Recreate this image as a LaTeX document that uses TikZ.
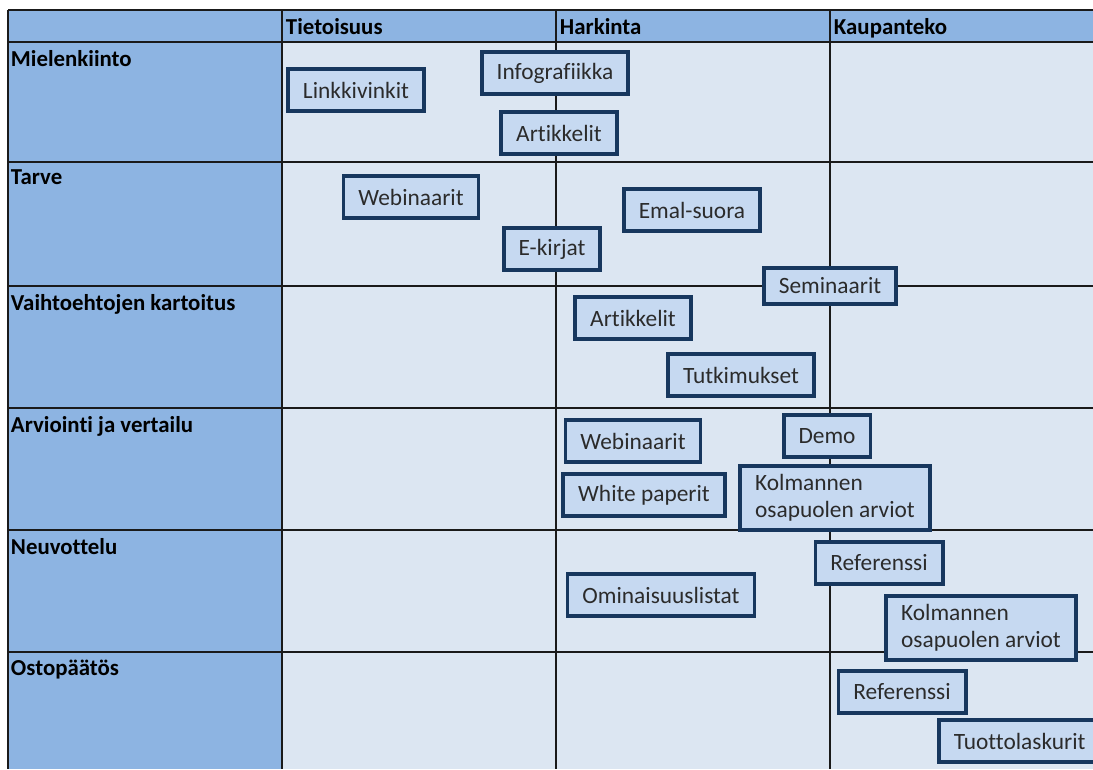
\documentclass[tikz,border=0pt]{standalone}
\usepackage{fontspec}
\setmainfont{Carlito}[Ligatures=NoCommon]
\usepackage{xcolor}
\usepackage{tikz}

\definecolor{headblue}{HTML}{8DB4E2}
\definecolor{cellblue}{HTML}{DCE6F2}
\definecolor{boxblue}{HTML}{C6D9F1}
\definecolor{boxline}{HTML}{17375E}
\definecolor{gridline}{HTML}{1A1A1A}
\definecolor{boxtext}{HTML}{2B2B2B}

\begin{document}
\begin{tikzpicture}[
    x=0.02cm, y=-0.02cm,
    channel/.style={rectangle, draw=boxline, line width=2.2pt, fill=boxblue, text=boxtext, inner xsep=8.5pt, inner ysep=4pt, minimum height=23.5pt, font=\fontsize{13.3}{15.5}\selectfont, align=left},
    heading/.style={anchor=north west, inner sep=1.5pt, font=\fontsize{13}{15}\selectfont\bfseries},
    gridline/.style={draw=gridline, line width=1.1pt},
]
\useasboundingbox (0,0) rectangle (1093,769);

% Background
\fill[cellblue] (282,42) rectangle (1093,769);
\fill[headblue] (8,10) rectangle (1093,42);
\fill[headblue] (8,42) rectangle (282,769);

% Grid
\foreach \y in {10,42,162,286,408,530,652} \draw[gridline] (8,\y) -- (1093,\y);
\foreach \x in {8,282,556,830} \draw[gridline] (\x,10) -- (\x,769);

% Phases
\node (tietoisuus) [heading] at (283,15) {Tietoisuus};
\node (harkinta) [heading] at (557,15) {Harkinta};
\node (kaupanteko) [heading] at (831,15) {Kaupanteko};

% Stages
\node (mielenkiinto) [heading] at (8,47) {Mielenkiinto};
\node (tarve) [heading] at (8,167) {Tarve};
\node (kartoitus) [heading] at (8,291) {Vaihtoehtojen kartoitus};
\node (vertailu) [heading] at (8,413) {Arviointi ja vertailu};
\node (neuvottelu) [heading] at (8,535) {Neuvottelu};
\node (ostopaatos) [heading] at (8,657) {Ostopäätös};

% Mielenkiinto
\node (linkkivinkit) [channel] at (356,90) {Linkkivinkit};
\node (infografiikka) [channel] at (555,73) {Infografiikka};
\node (artikkelit1) [channel] at (559,133) {Artikkelit};

% Tarve
\node (webinaarit1) [channel] at (411,197) {Webinaarit};
\node (emal) [channel] at (692,210) {Emal-suora};
\node (ekirjat) [channel] at (552,249) {E-kirjat};
\node (seminaarit) [channel, minimum height=20.5pt, inner ysep=2pt] at (830,286) {Seminaarit};

% Vaihtoehtojen kartoitus
\node (artikkelit2) [channel] at (633,318) {Artikkelit};
\node (tutkimukset) [channel] at (741,375) {Tutkimukset};

% Arviointi ja vertailu
\node (webinaarit2) [channel] at (633,441) {Webinaarit};
\node (demo) [channel] at (827,436) {Demo};
\node (whitepaper) [channel] at (644,495) {White paperit};
\node (arviot1) [channel, inner ysep=5pt] at (835,498) {Kolmannen\\osapuolen arviot};

% Neuvottelu
\node (referenssi1) [channel] at (879,563) {Referenssi};
\node (ominaisuudet) [channel] at (661,595) {Ominaisuuslistat};
\node (arviot2) [channel, inner ysep=5pt] at (981,628) {Kolmannen\\osapuolen arviot};

% Ostopaatos
\node (referenssi2) [channel] at (902,692) {Referenssi};
\node (tuotto) [channel, anchor=west] at (937,741) {Tuottolaskurit};

\end{tikzpicture}
\end{document}
